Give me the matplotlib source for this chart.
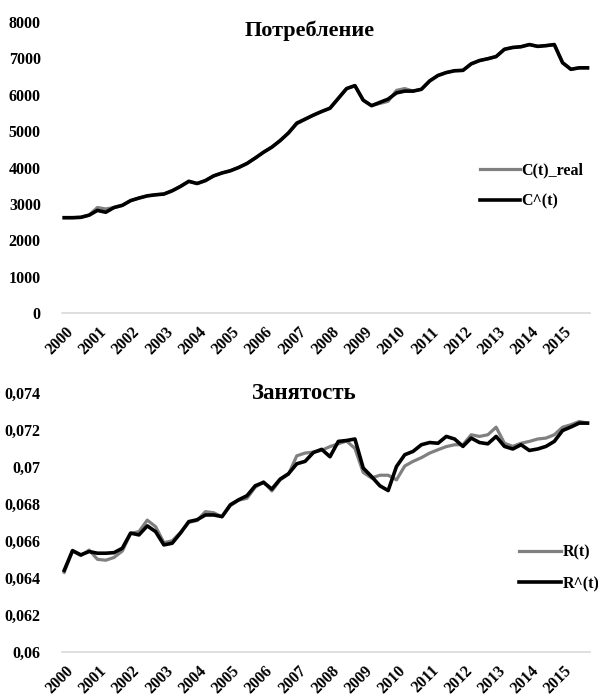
import numpy as np
import matplotlib.pyplot as plt

plt.rcParams['font.family'] = ['Liberation Serif', 'DejaVu Serif']
plt.rcParams['font.weight'] = 'bold'

years = [str(y) for y in range(2000, 2016)]

# consumption, quarterly 2000Q1..2015Q4
c_real = [2620, 2620, 2630, 2690, 2900, 2860, 2900, 2960,
          3090, 3160, 3220, 3250, 3270, 3360, 3480, 3620,
          3560, 3640, 3770, 3850, 3910, 4000, 4110, 4260,
          4420, 4560, 4740, 4950, 5200, 5320, 5440, 5540,
          5630, 5900, 6170, 6250, 5850, 5700, 5760, 5820,
          6120, 6170, 6100, 6150, 6380, 6530, 6610, 6660,
          6670, 6850, 6940, 6990, 7050, 7250, 7300, 7320,
          7380, 7330, 7350, 7380, 6880, 6700, 6740, 6740]
c_hat = [2620, 2620, 2630, 2690, 2820, 2770, 2900, 2960,
         3090, 3160, 3220, 3250, 3270, 3360, 3480, 3620,
         3560, 3640, 3770, 3850, 3910, 4000, 4110, 4260,
         4420, 4560, 4740, 4950, 5220, 5330, 5440, 5540,
         5630, 5900, 6170, 6250, 5850, 5700, 5790, 5880,
         6050, 6100, 6100, 6150, 6380, 6530, 6610, 6660,
         6670, 6850, 6940, 6990, 7050, 7250, 7300, 7320,
         7380, 7330, 7350, 7380, 6880, 6700, 6740, 6740]

# employment
r_real = [0.0643, 0.06545, 0.0652, 0.0655, 0.0650, 0.06495, 0.0651, 0.06545,
          0.0664, 0.0665, 0.06712, 0.06677, 0.0659, 0.0660, 0.06645, 0.0670,
          0.0671, 0.06758, 0.06752, 0.0673, 0.0679, 0.0682, 0.0683, 0.0689,
          0.0692, 0.0687, 0.0693, 0.0696, 0.0706, 0.07075, 0.0708, 0.0709,
          0.0711, 0.07125, 0.0714, 0.0710, 0.0697, 0.0694, 0.06955, 0.06955,
          0.0693, 0.07005, 0.0703, 0.0705, 0.07075, 0.07093, 0.0711, 0.0712,
          0.0712, 0.07174, 0.07165, 0.07174, 0.07215, 0.07128, 0.07111, 0.07128,
          0.07138, 0.07151, 0.07156, 0.07174, 0.07215, 0.07228, 0.07246, 0.07237]
r_hat = [0.0644, 0.06547, 0.06524, 0.06542, 0.06533, 0.06533, 0.06536, 0.0656,
         0.06642, 0.06632, 0.06681, 0.0665, 0.06578, 0.06587, 0.06642, 0.06704,
         0.06714, 0.0674, 0.0674, 0.06731, 0.06795, 0.06822, 0.06844, 0.06898,
         0.06916, 0.0688, 0.06934, 0.06963, 0.07017, 0.0703, 0.07078, 0.07095,
         0.07055, 0.07138, 0.07143, 0.07151, 0.06994, 0.06948, 0.06898, 0.06872,
         0.07002, 0.07066, 0.07084, 0.0712, 0.07132, 0.07128, 0.07165, 0.07151,
         0.07111, 0.07156, 0.07132, 0.07125, 0.07165, 0.07111, 0.07097, 0.0712,
         0.07089, 0.07097, 0.07111, 0.07138, 0.07197, 0.07216, 0.07237, 0.07237]

c_ticks = [0, 1000, 2000, 3000, 4000, 5000, 6000, 7000, 8000]
r_ticks = [0.06, 0.062, 0.064, 0.066, 0.068, 0.07, 0.072, 0.074]
r_ticklabels = ['0,06', '0,062', '0,064', '0,066', '0,068', '0,07', '0,072', '0,074']

GRAY = '#808080'

fig = plt.figure(figsize=(5.98, 6.96), dpi=100)
W, H = 598, 696


def make_axes(top_px, bottom_px):
    left, right = 61.7, 590
    return fig.add_axes([left / W, (H - bottom_px) / H,
                         (right - left) / W, (bottom_px - top_px) / H])


def style(ax, ylim, yticks, yticklabels):
    x = np.arange(len(c_hat))
    ax.set_xlim(-0.3, len(x) - 0.7)
    ax.set_ylim(*ylim)
    for s in ['top', 'right', 'left']:
        ax.spines[s].set_visible(False)
    ax.spines['bottom'].set_color('#d9d9d9')
    ax.spines['bottom'].set_linewidth(1.2)
    ax.set_yticks(yticks)
    ax.set_yticklabels(yticklabels, fontsize=11.5, fontweight='bold')
    ax.set_xticks(x[::4] + 0.15)
    ax.set_xticklabels(years, fontsize=11.5, fontweight='bold', rotation=45,
                       ha='right', va='top', rotation_mode='anchor')
    ax.tick_params(axis='both', length=0)
    ax.tick_params(axis='y', pad=15)
    ax.tick_params(axis='x', pad=8)


x = np.arange(len(c_hat))

ax1 = make_axes(22, 313)
ax1.plot(x, c_real, color=GRAY, lw=2.3, label='C(t)_real')
ax1.plot(x, c_hat, color='black', lw=2.6, label='C^(t)')
style(ax1, (0, 8000), c_ticks, [str(t) for t in c_ticks])
ax1.text(0.47, 0.97, 'Потребление', transform=ax1.transAxes, ha='center',
         va='center', fontsize=16, fontweight='bold')
ax1.legend(loc='center left', bbox_to_anchor=(0.792, 0.436), frameon=False,
           handlelength=2.5, handletextpad=0.1, labelspacing=0.95,
           borderpad=0, borderaxespad=0, prop={'weight': 'bold', 'size': 11.5})

ax2 = make_axes(393, 651.7)
ax2.plot(x, r_real, color=GRAY, lw=2.3, label='R(t)')
ax2.plot(x, r_hat, color='black', lw=2.6, label='R^(t)')
style(ax2, (0.06, 0.074), r_ticks, r_ticklabels)
ax2.text(0.459, 1.0, 'Занятость', transform=ax2.transAxes, ha='center',
         va='center', fontsize=16.5, fontweight='bold')
ax2.legend(loc='center left', bbox_to_anchor=(0.866, 0.322), frameon=False,
           handlelength=2.6, handletextpad=0.1, labelspacing=0.95,
           borderpad=0, borderaxespad=0, prop={'weight': 'bold', 'size': 11.5})

fig.savefig('out.png', dpi=100)
